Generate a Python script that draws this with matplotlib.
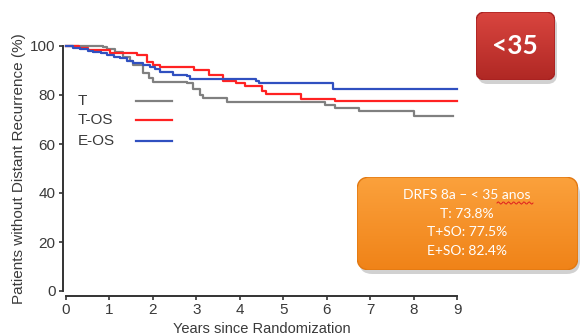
import numpy as np
import matplotlib
matplotlib.use("Agg")
import matplotlib.pyplot as plt
from matplotlib.patches import FancyBboxPatch
from matplotlib.lines import Line2D

# ---- data ----
gray_t = [0, 0.86, 0.94, 1.13, 1.32, 1.47, 1.55, 1.78, 1.9, 2.01, 2.78, 2.93, 3.09, 3.16, 3.7, 5.97, 6.2, 6.75, 8.0, 8.9]
gray_v = [100, 99.7, 98.6, 97.7, 95.6, 94.0, 92.2, 88.8, 86.8, 85.4, 84.8, 82.3, 80.0, 78.9, 77.3, 75.9, 74.8, 73.6, 71.6, 71.6]

red_t = [0, 0.3, 0.51, 1.01, 1.63, 1.86, 2.01, 2.17, 2.95, 3.3, 3.62, 3.92, 4.12, 4.5, 4.6, 5.4, 6.2, 9.0]
red_v = [100, 99.3, 98.4, 97.0, 96.3, 93.6, 92.4, 91.6, 90.2, 88.2, 85.8, 84.8, 83.8, 81.5, 80.3, 78.4, 77.5, 77.5]

blue_t = [0, 0.15, 0.32, 0.5, 0.63, 0.8, 0.94, 1.1, 1.24, 1.4, 1.55, 1.78, 1.94, 2.05, 2.17, 2.47, 2.78, 2.86, 4.38, 4.45, 6.15, 9.0]
blue_v = [100, 99.3, 98.6, 98.1, 97.7, 97.0, 96.3, 95.6, 95.0, 94.0, 93.2, 92.2, 91.6, 90.5, 89.5, 88.2, 87.6, 86.5, 85.6, 84.8, 82.4, 82.4]

series_labels = ["T", "T-OS", "E-OS"]
series_colors = ["#808080", "#ff2222", "#3050c0"]

x_ticks = list(range(0, 10))
y_ticks = [0, 20, 40, 60, 80, 100]
x_label = "Years since Randomization"
y_label = "Patients without Distant Recurrence (%)"
box_lines = ["DRFS 8a \u2013 < 35 anos", "T: 73.8%", "T+SO: 77.5%", "E+SO: 82.4%"]
badge_text = "<35"

W, H = 580, 335
fig = plt.figure(figsize=(W / 100, H / 100), dpi=100)
fig.patch.set_facecolor("white")

def fx(px):
    return px / W

def fy(py):
    return 1 - py / H

TXT = "#3a3a3a"
ax = fig.add_axes([fx(66), fy(291), fx(457) - fx(66), fy(46) - fy(291)])
ax.set_xlim(0, 9)
ax.set_ylim(0, 100)
for t, v, c in zip([gray_t, red_t, blue_t], [gray_v, red_v, blue_v], series_colors):
    ax.plot(t, v, drawstyle="steps-post", color=c, lw=1.6, clip_on=False, zorder=3)

for s in ["top", "right"]:
    ax.spines[s].set_visible(False)
ax.spines["left"].set_position(("outward", 2.5))
ax.spines["bottom"].set_position(("outward", 3.5))
for s in ["left", "bottom"]:
    ax.spines[s].set_linewidth(1.4)
    ax.spines[s].set_color("#333333")
ax.set_xticks(x_ticks)
ax.set_yticks(y_ticks)
ax.tick_params(length=3, width=1.2, color="#333333", labelsize=11, labelcolor=TXT, pad=2)
for lab in ax.get_xticklabels() + ax.get_yticklabels():
    lab.set_fontfamily("Liberation Sans")
ax.set_xlabel(x_label, fontsize=10.5, family="Liberation Sans", color=TXT, labelpad=4)
ax.set_ylabel(y_label, fontsize=11, family="Liberation Sans", color=TXT, labelpad=3)

# legend (text left, line right)
leg_y = [101, 120, 141]
for lab, c, py in zip(series_labels, series_colors, leg_y):
    fig.text(fx(78), fy(py), lab, fontsize=11, family="Liberation Sans", color=TXT, va="center", ha="left")
    fig.add_artist(Line2D([fx(136), fx(172)], [fy(py), fy(py)], color=c, lw=1.6))

# gradient boxes
def gradient_box(x0, y0, x1, y1, top, bottom, edge, rad, shadow=True):
    asp = (x1 - x0) / (y1 - y0)
    if shadow:
        sh = fig.add_axes([fx(x0 + 2), fy(y1 + 4), fx(x1) - fx(x0), fy(y0) - fy(y1)])
        sh.set_axis_off()
        sh.set_xlim(0, 1); sh.set_ylim(0, 1)
        sh.add_patch(FancyBboxPatch((0.0, 0.0), 1, 1, boxstyle=f"round,pad=0,rounding_size={rad}",
                                    transform=sh.transAxes, fc="#000000", ec="none", alpha=0.18, mutation_aspect=asp))
    bx = fig.add_axes([fx(x0), fy(y1), fx(x1) - fx(x0), fy(y0) - fy(y1)])
    bx.set_axis_off()
    bx.set_xlim(0, 1); bx.set_ylim(0, 1)
    ct = np.array(matplotlib.colors.to_rgb(top))
    cb = np.array(matplotlib.colors.to_rgb(bottom))
    n = 64
    f = np.linspace(0, 1, n)[:, None]
    img = (ct[None, :] * (1 - f) + cb[None, :] * f)[:, None, :]
    im = bx.imshow(img, extent=[0, 1, 0, 1], aspect="auto", origin="upper")
    p = FancyBboxPatch((0.0, 0.0), 1, 1, boxstyle=f"round,pad=0,rounding_size={rad}",
                       transform=bx.transAxes, fc="none", ec=edge, lw=1.0, mutation_aspect=asp)
    bx.add_patch(p)
    im.set_clip_path(p)
    return bx

gradient_box(476, 12, 555, 80, "#d9453f", "#b02824", "#a82020", 0.12)
fig.text(fx(515), fy(46), badge_text, fontsize=19, family="Lato", weight="bold", color="white",
         ha="center", va="center")

gradient_box(357, 177, 578, 270, "#fba13c", "#f08318", "#e27810", 0.06)
line_y = [195, 214, 232, 251]
for s, py in zip(box_lines, line_y):
    fig.text(fx(467), fy(py), s, fontsize=10, family="Lato", color="white", ha="center", va="center")

# red spell-check squiggle under "anos"
sx = np.linspace(fx(497), fx(533), 32)
sy = fy(203) + 0.0035 * np.sin(np.linspace(0, 14 * np.pi, 32))
fig.add_artist(Line2D(sx, sy, color="#e02020", lw=0.7))

fig.savefig("out.png", dpi=100)
